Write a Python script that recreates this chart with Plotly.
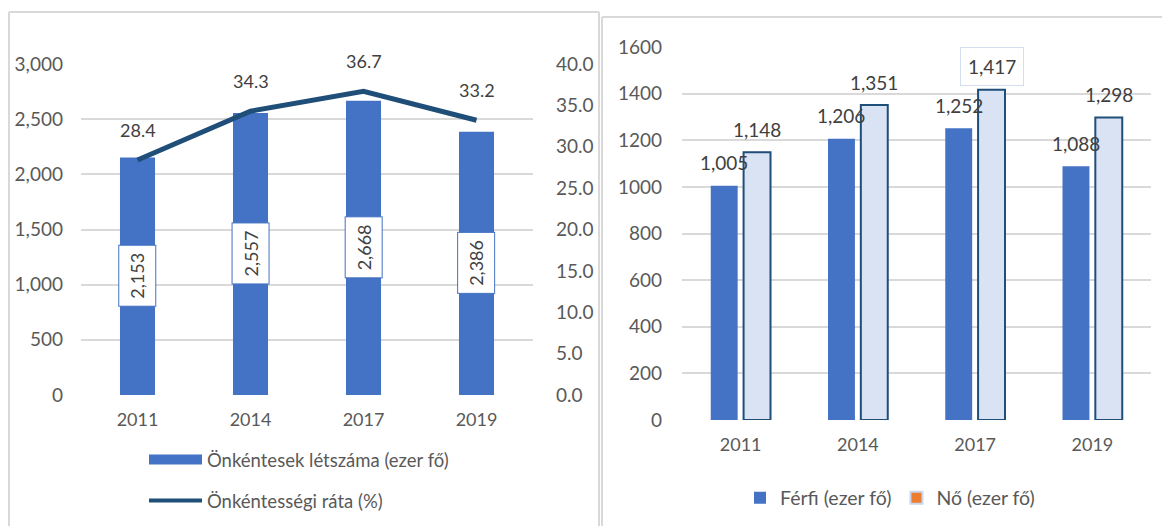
import plotly.graph_objects as go

# ---------------- data ----------------
years = ["2011", "2014", "2017", "2019"]
volunteers = [2153, 2557, 2668, 2386]          # Önkéntesek létszáma (ezer fő)
rate = [28.4, 34.3, 36.7, 33.2]                # Önkéntességi ráta (%)
male = [1005, 1206, 1252, 1088]                # Férfi (ezer fő)
female = [1148, 1351, 1417, 1298]              # Nő (ezer fő)

left_y_ticks = [0, 500, 1000, 1500, 2000, 2500, 3000]
rate_ticks = [0, 5, 10, 15, 20, 25, 30, 35, 40]
right_y_ticks = [0, 200, 400, 600, 800, 1000, 1200, 1400, 1600]

name_vol = "Önkéntesek létszáma (ezer fő)"
name_rate = "Önkéntességi ráta (%)"
name_male = "Férfi (ezer fő)"
name_female = "Nő (ezer fő)"

# ---------------- styles ----------------
PAGE_MARGIN = 8                      # default body margin of the html page
W, H = 1170 - PAGE_MARGIN, 526 - PAGE_MARGIN
FONT = "Lato"
TICK_COL = "#595959"
LBL_COL = "#404040"
GRID = "#D9D9D9"
BLUE = "#4472C4"
DARK = "#1F4E79"
LIGHT = "#DAE3F3"


def px_x(p):
    return (p - PAGE_MARGIN) / W


def px_y(p):
    return 1 - (p - PAGE_MARGIN) / H


fig = go.Figure()

# Left panel bars
fig.add_trace(go.Bar(
    x=years, y=volunteers, name=name_vol, width=0.31,
    marker=dict(color=BLUE, line=dict(width=0)),
    xaxis="x", yaxis="y", showlegend=False,
))
# Left panel line
fig.add_trace(go.Scatter(
    x=years, y=rate, name=name_rate, mode="lines",
    line=dict(color=DARK, width=5),
    xaxis="x", yaxis="y2", showlegend=False,
))
# legend entries (left)
fig.add_trace(go.Scatter(
    x=[None], y=[None], name=name_vol, mode="lines",
    line=dict(color=BLUE, width=11), legend="legend", legendgroup="a",
    xaxis="x", yaxis="y",
))
fig.add_trace(go.Scatter(
    x=[None], y=[None], name=name_rate, mode="lines",
    line=dict(color=DARK, width=4), legend="legend", legendgroup="b",
    xaxis="x", yaxis="y",
))

# Right panel bars
fig.add_trace(go.Bar(
    x=years, y=male, name=name_male,
    marker=dict(color=BLUE, line=dict(width=0)),
    xaxis="x2", yaxis="y3", legend="legend2",
))
fig.add_trace(go.Bar(
    x=years, y=female, name=name_female,
    marker=dict(color=LIGHT, line=dict(color=DARK, width=2)),
    xaxis="x2", yaxis="y3", showlegend=False,
))
fig.add_trace(go.Scatter(
    x=[None], y=[None], name=name_female, mode="markers",
    marker=dict(symbol="square", size=12, color="#ED7D31",
                line=dict(color="#C9D6EC", width=2)),
    xaxis="x2", yaxis="y3", legend="legend2",
))

annotations = []
# rate labels (category axes take the serial number of the category)
for i, r in enumerate(rate):
    annotations.append(dict(
        x=i, y=r, xref="x", yref="y2", text=f"{r:.1f}", showarrow=False,
        yshift=30, font=dict(family=FONT, size=18, color=LBL_COL),
    ))
# volunteers labels (rotated, boxed)
for i, v in enumerate(volunteers):
    annotations.append(dict(
        x=i, y=v / 2, xref="x", yref="y", text=f"{v:,}", showarrow=False,
        textangle=-90, bgcolor="white", bordercolor=BLUE, borderwidth=1,
        borderpad=7, font=dict(family=FONT, size=18, color=LBL_COL),
    ))
# male / female labels
boxed = female.index(max(female))
for i, (m, f) in enumerate(zip(male, female)):
    annotations.append(dict(
        x=i, y=m, xref="x2", yref="y3", text=f"{m:,}", showarrow=False,
        xshift=-16.5, yshift=23, font=dict(family=FONT, size=19, color=LBL_COL),
    ))
    extra = {}
    if i == boxed:
        extra = dict(bordercolor="#D3DEEF", borderwidth=1, borderpad=7)
    annotations.append(dict(
        x=i, y=f, xref="x2", yref="y3", text=f"{f:,}", showarrow=False,
        xshift=16.5, yshift=23, font=dict(family=FONT, size=19, color=LBL_COL),
        **extra,
    ))

frame = dict(color=GRID, width=2)
shapes = [
    # left panel frame
    dict(type="line", xref="paper", yref="paper", x0=px_x(9), x1=px_x(9), y0=px_y(12), y1=0, line=frame),
    dict(type="line", xref="paper", yref="paper", x0=px_x(9), x1=px_x(599), y0=px_y(12), y1=px_y(12), line=frame),
    dict(type="line", xref="paper", yref="paper", x0=px_x(599), x1=px_x(599), y0=px_y(12), y1=0, line=frame),
    # right panel frame
    dict(type="line", xref="paper", yref="paper", x0=px_x(602), x1=px_x(602), y0=px_y(17), y1=0, line=frame),
    dict(type="line", xref="paper", yref="paper", x0=px_x(602), x1=1, y0=px_y(17), y1=px_y(17), line=frame),
]

xtickfont = dict(family=FONT, size=18, color=TICK_COL)
ytickfont = dict(family=FONT, size=19, color=TICK_COL)
cat_range = [-0.5, len(years) - 0.5]

fig.update_layout(
    width=W, height=H,
    margin=dict(l=0, r=0, t=0, b=0, autoexpand=False),
    paper_bgcolor="white", plot_bgcolor="white",
    font=dict(family=FONT, size=18, color=TICK_COL),
    barmode="group", bargap=0.44, bargroupgap=0.18,
    xaxis=dict(domain=[px_x(81), px_x(533)], type="category", categoryarray=years,
               range=cat_range, tickfont=xtickfont, automargin=False,
               showgrid=False, showline=False, zeroline=False, ticklabelstandoff=12,
               anchor="y", fixedrange=True),
    yaxis=dict(domain=[px_y(395), px_y(64)], range=[0, 3000], tickvals=left_y_ticks,
               tickformat=",d", tickfont=ytickfont, gridcolor=GRID, gridwidth=1.5,
               automargin=False,
               zeroline=False, showline=False, ticklabelstandoff=17, anchor="x"),
    yaxis2=dict(overlaying="y", side="right", range=[0, 40], tickvals=rate_ticks,
                tickformat=".1f", tickfont=ytickfont, showgrid=False, zeroline=False,
                automargin=False,
                showline=False, ticklabelstandoff=22, anchor="x"),
    xaxis2=dict(domain=[px_x(682), px_x(1151)], type="category", categoryarray=years,
                range=cat_range, tickfont=xtickfont, automargin=False,
                showgrid=False, showline=False, zeroline=False, ticklabelstandoff=12,
                anchor="y3"),
    yaxis3=dict(domain=[px_y(420), px_y(47)], range=[0, 1600], tickvals=right_y_ticks,
                tickformat="d", tickfont=ytickfont, gridcolor=GRID, gridwidth=1.5,
                automargin=False,
                zeroline=False, showline=False, ticklabelstandoff=19, anchor="x2"),
    legend=dict(x=px_x(144), y=px_y(441), xanchor="left", yanchor="top",
                orientation="v", itemwidth=53, tracegroupgap=14,
                font=dict(family=FONT, size=18.5, color=TICK_COL), bgcolor="rgba(0,0,0,0)"),
    legend2=dict(x=px_x(740), y=px_y(498), xanchor="left", yanchor="middle",
                 orientation="h", font=dict(family=FONT, size=19.5, color=TICK_COL),
                 bgcolor="rgba(0,0,0,0)"),
    annotations=annotations,
    shapes=shapes,
)

fig.write_html("out.html")
